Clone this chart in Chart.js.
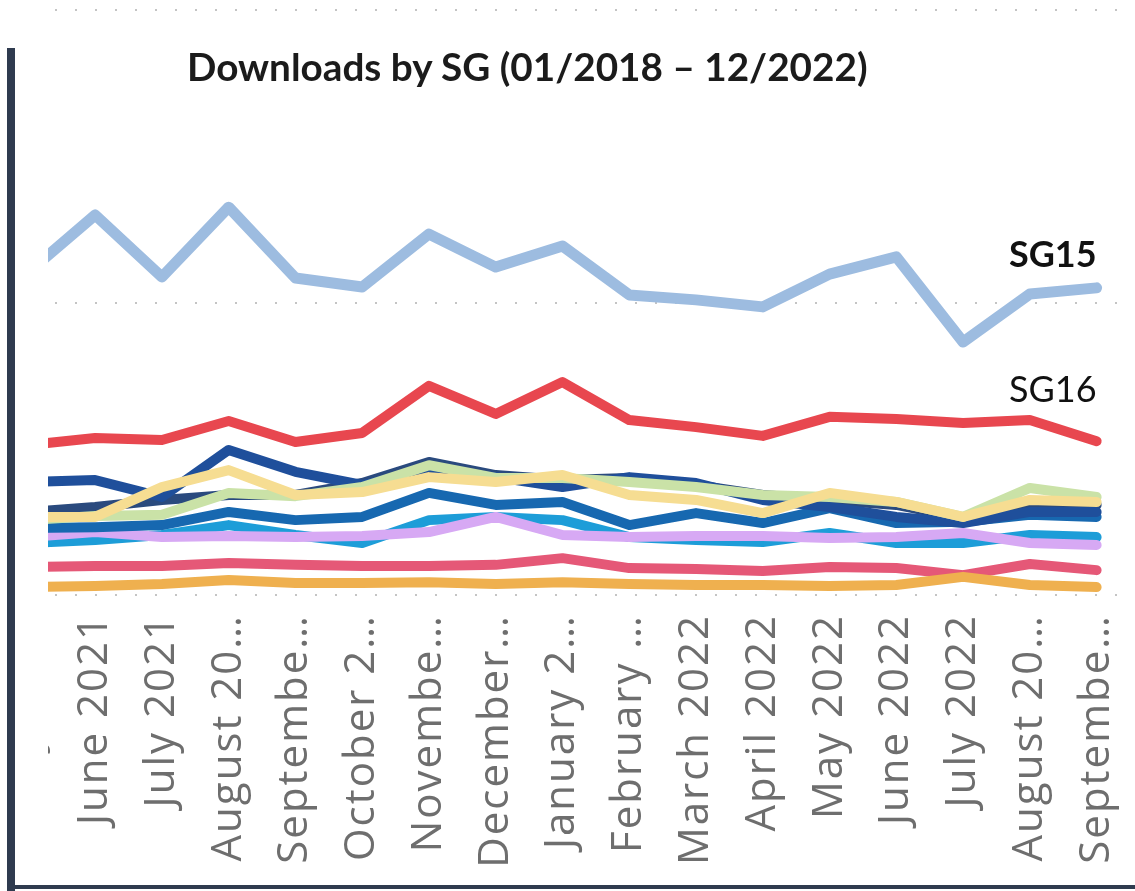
<!DOCTYPE html>
<html>
<head>
<meta charset="utf-8">
<script src="https://cdn.jsdelivr.net/npm/chart.js@4.4.1/dist/chart.umd.min.js"></script>
<style>
  html, body { margin: 0; padding: 0; background: #fff; }
  body { width: 1135px; height: 891px; position: relative; overflow: hidden; }
  #plot { position: absolute; left: 48px; top: 0; width: 1087px; height: 891px; overflow: hidden; }
  #chart { position: absolute; left: -53px; top: 0; }
  #title { position: absolute; left: 187px; top: 47px; font: bold 38.7px Lato, sans-serif; color: #1b1b1b; line-height: 1; white-space: nowrap; }
  .frame-left { position: absolute; left: 7px; top: 48px; width: 8px; height: 843px; background: #2f3b4f; }
  .frame-bottom { position: absolute; left: 7px; top: 885px; width: 1128px; height: 4px; background: #2f3b4f; }
</style>
</head>
<body>
<div id="plot"><canvas id="chart" width="1135" height="891"></canvas></div>
<div id="title">Downloads by SG (01/2018 – 12/2022)</div>
<div class="frame-left"></div>
<div class="frame-bottom"></div>

<script>
const months = ["May 2021", "June 2021", "July 2021", "August 2021", "September 2021", "October 2021",
  "November 2021", "December 2021", "January 2022", "February 2022", "March 2022", "April 2022",
  "May 2022", "June 2022", "July 2022", "August 2022", "September 2022"];

// labels as they show on the axis (cut short by the report)
const tickLabels = ["May 2021", "June 2021", "July 2021", "August 20…", "Septembe…", "October 2…",
  "Novembe…", "December…", "January 2…", "February …", "March 2022", "April 2022",
  "May 2022", "June 2022", "July 2022", "August 20…", "Septembe…"];

// downloads (thousands)
const sg15 = [110.4, 129.9, 108.7, 132.6, 108.4, 105.3, 123.4, 112.1, 119.3, 102.6, 100.9, 98.5, 109.7, 115.6, 86.5, 102.9, 105.0];
const sg16 = [51.3, 53.7, 53.0, 59.5, 52.3, 55.4, 71.5, 61.9, 72.8, 59.8, 57.4, 54.4, 60.9, 60.2, 58.8, 59.8, 52.6];
const sg20 = [26.7, 26.7, 36.9, 42.7, 34.2, 35.2, 40.3, 38.6, 41.0, 34.2, 32.5, 28.0, 34.9, 31.8, 26.7, 32.5, 31.8];
const sg5  = [25.6, 27.0, 27.4, 34.9, 33.8, 36.9, 44.4, 40.0, 40.0, 38.6, 36.9, 34.2, 33.5, 31.8, 26.7, 36.6, 33.5];
const sg13 = [38.6, 39.3, 33.5, 49.6, 42.1, 37.6, 42.7, 40.3, 36.9, 40.3, 38.3, 32.5, 30.1, 26.7, 24.6, 28.4, 28.4];
const sg9  = [28.4, 30.1, 32.5, 34.2, 34.2, 38.3, 45.5, 41.0, 39.3, 40.0, 37.6, 34.2, 32.5, 30.8, 26.3, 30.8, 30.8];
const sg12 = [22.9, 23.2, 23.9, 28.4, 25.6, 26.7, 34.9, 30.8, 31.8, 23.9, 28.0, 24.6, 29.7, 24.6, 25.0, 27.4, 26.7];
const sg17 = [19.8, 21.5, 19.8, 20.2, 19.8, 20.2, 21.5, 26.7, 20.5, 19.8, 20.2, 20.2, 19.5, 19.8, 21.2, 17.8, 17.1];
const sg11 = [17.8, 18.8, 20.5, 23.9, 20.5, 17.8, 25.6, 26.7, 25.6, 19.8, 18.8, 18.1, 21.2, 17.8, 17.8, 20.5, 19.8];
const sg3  = [2.7, 3.1, 3.8, 5.1, 4.1, 4.1, 4.4, 3.8, 4.4, 3.8, 3.4, 3.4, 3.1, 3.4, 6.2, 3.4, 2.7];
const sg2  = [9.6, 9.9, 9.9, 10.9, 10.3, 9.9, 9.9, 10.3, 12.6, 9.2, 8.9, 8.2, 9.6, 9.2, 6.8, 10.6, 8.5];

const yTicks = [0, 100, 200];

// first dataset is painted last, so it sits on top
const series = [
  { name: "SG20", data: sg20, color: "#f6dd92" },
  { name: "SG5",  data: sg5,  color: "#cae2a7" },
  { name: "SG13", data: sg13, color: "#1f4f9b" },
  { name: "SG9",  data: sg9,  color: "#2a4a7e" },
  { name: "SG12", data: sg12, color: "#1768b0" },
  { name: "SG17", data: sg17, color: "#d7a9f4" },
  { name: "SG11", data: sg11, color: "#1d9dd8" },
  { name: "SG3",  data: sg3,  color: "#efb04f" },
  { name: "SG2",  data: sg2,  color: "#e55877" },
  { name: "SG16", data: sg16, color: "#e8474f" },
  { name: "SG15", data: sg15, color: "#9dbce0" }
];

// the axis text in the report is set a little wider
const wideTicks = {
  id: "wideTicks",
  beforeDraw(chart) { chart.ctx.letterSpacing = "2px"; },
  afterDraw(chart) { chart.ctx.letterSpacing = "0px"; }
};

// SG15 / SG16 names written above the line ends
const endLabels = {
  id: "endLabels",
  afterDatasetsDraw(chart) {
    const ctx = chart.ctx;
    const marks = [
      { name: "SG15", font: "bold 36px Lato, sans-serif", dy: -21 },
      { name: "SG16", font: "36px Lato, sans-serif", dy: -39 }
    ];
    ctx.save();
    ctx.letterSpacing = "0px";
    ctx.fillStyle = "#111";
    ctx.textAlign = "right";
    ctx.textBaseline = "alphabetic";
    marks.forEach(m => {
      const i = chart.data.datasets.findIndex(d => d.label === m.name);
      const pts = chart.getDatasetMeta(i).data;
      const p = pts[pts.length - 1];
      ctx.font = m.font;
      ctx.fillText(m.name, p.x, p.y + m.dy);
    });
    ctx.restore();
  }
};

new Chart(document.getElementById("chart"), {
  type: "line",
  data: {
    labels: months,
    datasets: series.map(s => ({
      label: s.name,
      data: s.data,
      borderColor: s.color,
      backgroundColor: s.color,
      borderWidth: s.name === "SG15" ? 11 : 10,
      borderJoinStyle: "round",
      borderCapStyle: "round",
      pointRadius: 0,
      tension: 0,
      fill: false
    }))
  },
  options: {
    responsive: false,
    animation: false,
    devicePixelRatio: 1,
    layout: { padding: { top: 10, left: 0, right: 0, bottom: 0 } },
    plugins: {
      legend: { display: false },
      tooltip: { enabled: false },
      title: { display: false }
    },
    scales: {
      x: {
        offset: true,
        grid: { display: false, drawTicks: false },
        border: { display: false },
        afterFit: s => { s.height = 296; s.paddingLeft = 0; s.paddingRight = 0; },
        ticks: {
          autoSkip: false,
          maxRotation: 90,
          minRotation: 90,
          padding: 19,
          color: "#6e6e6e",
          font: { family: "'Open Sans', sans-serif", size: 42 },
          callback: (v, i) => tickLabels[i]
        }
      },
      y: {
        min: yTicks[0],
        max: yTicks[yTicks.length - 1],
        afterBuildTicks: s => { s.ticks = yTicks.map(v => ({ value: v })); },
        afterFit: s => { s.width = 0; },
        ticks: { display: false },
        grid: { color: "#c4c4c4", lineWidth: 2, drawTicks: false },
        border: { display: false, dash: [2, 18] }
      }
    }
  },
  plugins: [wideTicks, endLabels]
});
</script>
</body>
</html>
